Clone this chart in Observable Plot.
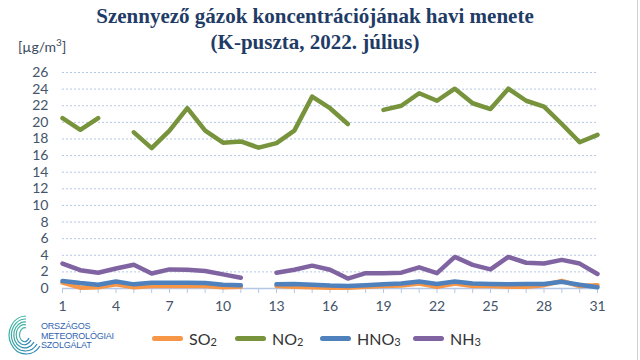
<!DOCTYPE html>
<html>
<head>
<meta charset="utf-8">
<script src="https://cdn.jsdelivr.net/npm/d3@7"></script>
<script src="https://cdn.jsdelivr.net/npm/@observablehq/plot@0.6"></script>
<style>
  html, body { margin: 0; padding: 0; background: #fff; }
  #wrap { position: relative; width: 640px; height: 360px; overflow: hidden; font-family: Lato, "Open Sans", sans-serif; }
  #title { position: absolute; left: 0; top: 3px; width: 630px; text-align: center; font-family: "Liberation Serif", "DejaVu Serif", serif; font-weight: bold; font-size: 21px; line-height: 26px; color: #1F3C66; }
  #unit { position: absolute; left: 18px; top: 36px; font-size: 14px; color: #3B4A5E; }
  #chart { position: absolute; left: 0; top: 60px; }
  #legend { position: absolute; top: 326px; left: 0; width: 640px; height: 24px; font-size: 16px; color: #333; }
  .item { position: absolute; top: 0; display: flex; align-items: center; height: 24px; }
  .sw { width: 31px; height: 5px; border-radius: 3px; margin-right: 6px; }
  .item sub { font-size: 11px; position: relative; top: 3px; vertical-align: baseline; }
  #logo { position: absolute; left: 6px; top: 313px; width: 36px; height: 44px; }
  #logotext { position: absolute; left: 41px; top: 322px; font-family: "Liberation Sans", sans-serif; font-size: 9px; line-height: 9.5px; color: #3164B0; letter-spacing: -0.2px; }
  #edge { position: absolute; left: 637px; top: 0; width: 1px; height: 360px; background: #d0d0d0; }
</style>
</head>
<body>
<div id="wrap">
  <div id="title">Szennyező gázok koncentrációjának havi menete<br>(K-puszta, 2022. július)</div>
  <div id="unit">[µg/m<sup style="font-size:10px">3</sup>]</div>
  <div id="chart"></div>
  <svg id="logo" width="36" height="44" viewBox="0 0 36 44">
    <defs>
      <linearGradient id="lg" x1="0" y1="0" x2="1" y2="1">
        <stop offset="0" stop-color="#45BFA0"/>
        <stop offset="1" stop-color="#2A7DB5"/>
      </linearGradient>
    </defs>
    <g fill="none" stroke="url(#lg)" stroke-width="1.2">
      <path d="M20 3 A17 19 0 1 0 34 33"/>
      <path d="M20 6 A14 16 0 1 0 31 31"/>
      <path d="M20 9 A11 13 0 1 0 28 29"/>
      <path d="M20 12 A8 10 0 1 0 25 27"/>
      <path d="M20 15 A5 7 0 1 0 23 25"/>
    </g>
  </svg>
  <div id="logotext">ORSZÁGOS<br>METEOROLÓGIAI<br>SZOLGÁLAT</div>
  <div id="legend">
    <div class="item" style="left:152px"><div class="sw" style="background:#F79646"></div>SO<sub>2</sub></div>
    <div class="item" style="left:235px"><div class="sw" style="background:#77933C"></div>NO<sub>2</sub></div>
    <div class="item" style="left:320px"><div class="sw" style="background:#4F81BD"></div>HNO<sub>3</sub></div>
    <div class="item" style="left:413px"><div class="sw" style="background:#8064A2"></div>NH<sub>3</sub></div>
  </div>
  <div id="edge"></div>
</div>
<script>
const days = d3.range(1, 32);
const xTickLabels = [1, 4, 7, 10, 13, 16, 19, 22, 25, 28, 31];
const yTicks = [0, 2, 4, 6, 8, 10, 12, 14, 16, 18, 20, 22, 24, 26];
const seriesNames = ["SO2", "NO2", "HNO3", "NH3"];
const seriesColors = ["#F79646", "#77933C", "#4F81BD", "#8064A2"];

const so2 = [0.7, 0.1, 0.15, 0.5, 0.15, 0.3, 0.3, 0.3, 0.3, 0.15, 0.2, null, 0.3, 0.2, 0.15, 0.1, 0.1, 0.2, 0.3, 0.35, 0.6, 0.2, 0.6, 0.3, 0.3, 0.2, 0.2, 0.4, 0.9, 0.3, 0.4];
const no2 = [20.5, 19.1, 20.5, null, 18.8, 16.9, 19.0, 21.7, 19.0, 17.55, 17.7, 16.95, 17.5, 19.0, 23.1, 21.7, 19.8, null, 21.5, 22.0, 23.5, 22.6, 24.05, 22.3, 21.6, 24.05, 22.6, 21.9, 19.8, 17.6, 18.5];
const hno3 = [0.9, 0.65, 0.45, 0.85, 0.5, 0.7, 0.7, 0.7, 0.65, 0.45, 0.4, null, 0.5, 0.55, 0.45, 0.35, 0.3, 0.4, 0.5, 0.6, 0.85, 0.55, 0.85, 0.6, 0.55, 0.5, 0.55, 0.55, 0.8, 0.45, 0.15];
const nh3 = [3.0, 2.2, 1.9, 2.4, 2.85, 1.8, 2.3, 2.25, 2.1, 1.7, 1.3, null, 1.9, 2.25, 2.75, 2.25, 1.2, 1.85, 1.85, 1.9, 2.55, 1.85, 3.8, 2.85, 2.3, 3.8, 3.1, 3.0, 3.45, 3.0, 1.75];

const seriesValues = [so2, no2, hno3, nh3];
const rows = [];
seriesNames.forEach((name, si) => {
  days.forEach((d, i) => {
    const v = seriesValues[si][i];
    rows.push({series: name, day: d, value: v == null ? NaN : v});
  });
});

const tickColor = "#44546A";
const chart = Plot.plot({
  width: 640,
  height: 260,
  marginTop: 12,
  marginBottom: 32,
  marginLeft: 62,
  marginRight: 43,
  x: {domain: [1, 31]},
  y: {domain: [0, 26]},
  color: {domain: seriesNames, range: seriesColors},
  style: {fontFamily: "Lato, 'Open Sans', sans-serif", fontSize: "14px", color: tickColor, background: "transparent"},
  marks: [
    Plot.gridY(yTicks.filter(t => t > 0), {stroke: "#B4C7E7", strokeOpacity: 1, strokeDasharray: "2,2", strokeWidth: 1}),
    Plot.ruleY([0], {stroke: "#B4C7E7", strokeWidth: 1.5}),
    Plot.axisY(yTicks, {tickSize: 0, tickPadding: 14, fill: tickColor, fontSize: 14, label: null}),
    Plot.axisX(days, {tickSize: 5, stroke: "#B4C7E7", strokeOpacity: 1, tickPadding: 8, fill: tickColor, fontSize: 14, label: null,
      tickFormat: d => xTickLabels.includes(d) ? String(d) : ""}),
    Plot.line(rows, {x: "day", y: "value", z: "series", stroke: "series", strokeWidth: 4.5, strokeLinejoin: "round", strokeLinecap: "round", curve: "linear"})
  ]
});
document.getElementById("chart").appendChild(chart);
</script>
</body>
</html>
